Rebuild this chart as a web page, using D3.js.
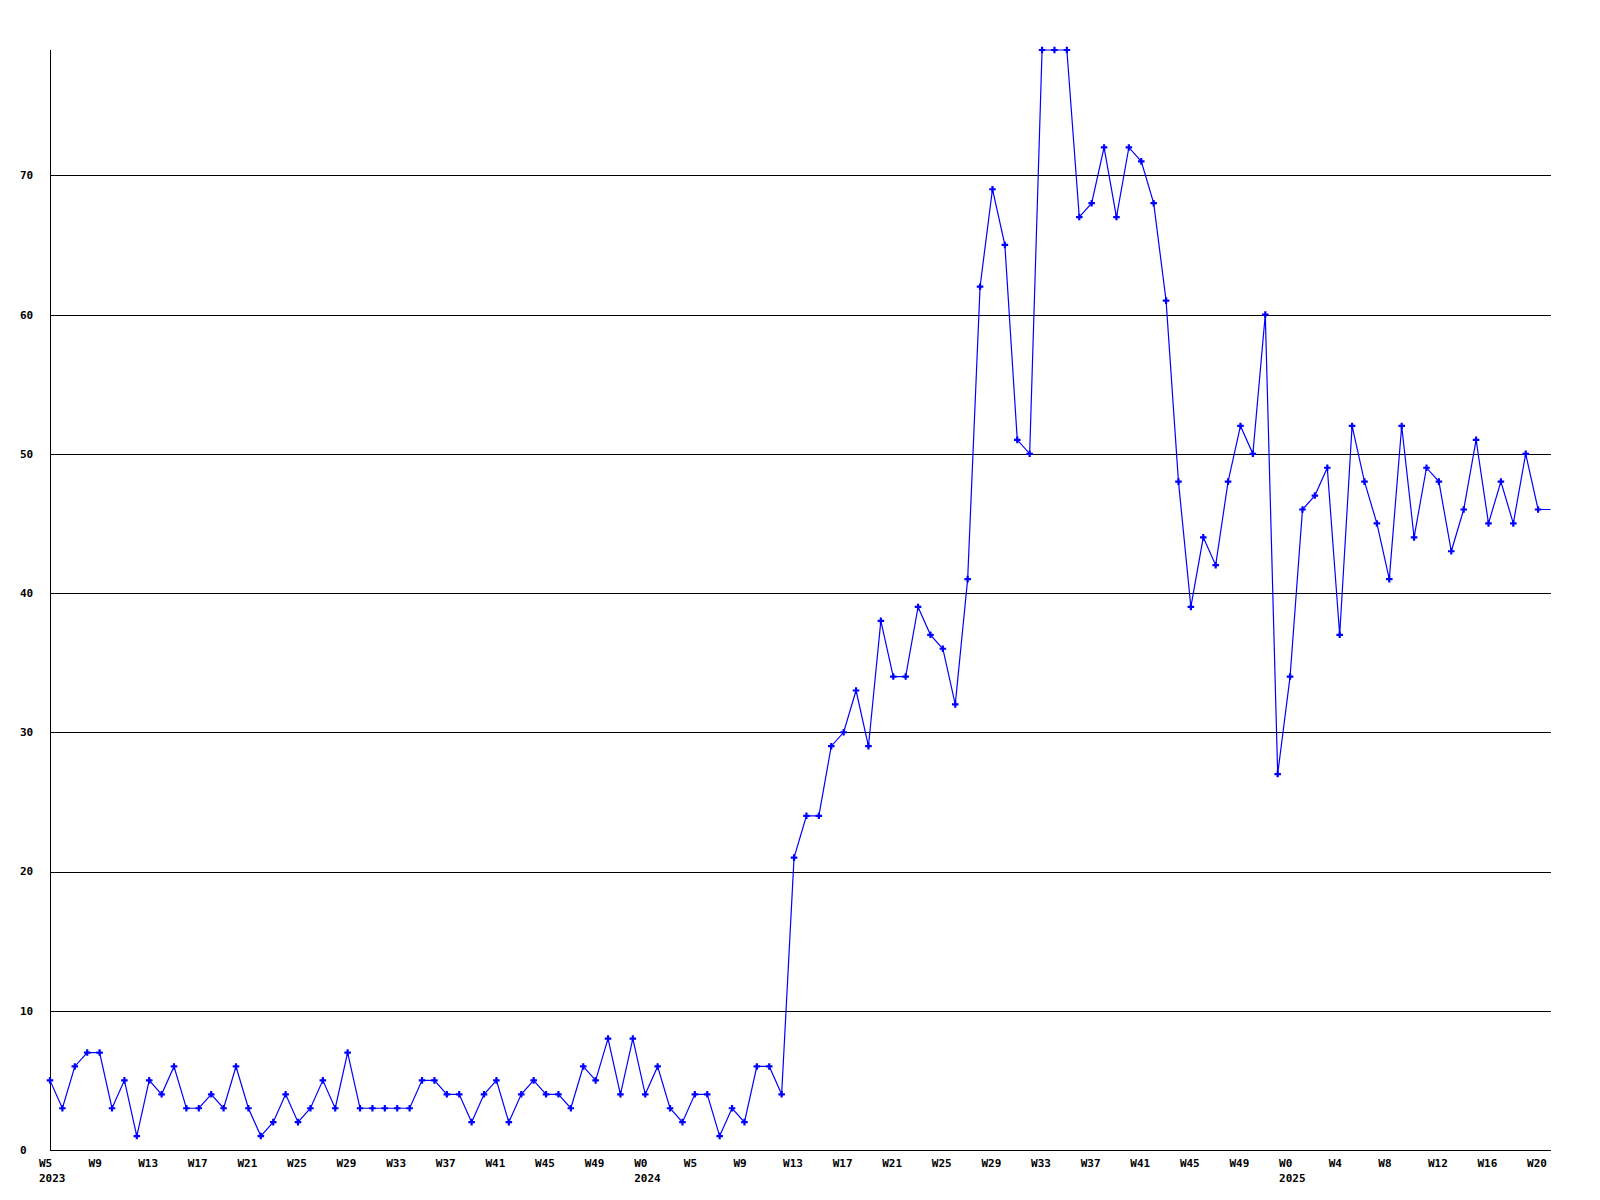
<!DOCTYPE html>
<html>
<head>
<meta charset="utf-8">
<script src="https://cdn.jsdelivr.net/npm/d3@7/dist/d3.min.js"></script>
<style>
  html, body { margin: 0; padding: 0; background: #ffffff; }
  svg { display: block; }
  text { font-family: "DejaVu Sans Mono", "Liberation Mono", monospace; font-weight: bold; font-size: 11px; fill: #000; }
</style>
</head>
<body>
<svg id="chart" width="1600" height="1200"></svg>
<script>
// Weekly values, 2023 W5 onward (one value per week)
const values = [
  5, 3, 6, 7, 7, 3, 5, 1, 5, 4, 6, 3, 3, 4, 3, 6, 3, 1, 2, 4,
  2, 3, 5, 3, 7, 3, 3, 3, 3, 3, 5, 5, 4, 4, 2, 4, 5, 2, 4, 5,
  4, 4, 3, 6, 5, 8, 4, 8, 4, 6, 3, 2, 4, 4, 1, 3, 2, 6, 6, 4,
  21, 24, 24, 29, 30, 33, 29, 38, 34, 34, 39, 37, 36, 32, 41, 62, 69, 65, 51, 50,
  79, 79, 79, 67, 68, 72, 67, 72, 71, 68, 61, 48, 39, 44, 42, 48, 52, 50, 60, 27,
  34, 46, 47, 49, 37, 52, 48, 45, 41, 52, 44, 49, 48, 43, 46, 51, 45, 48, 45, 50,
  46, 46
];
// X tick labels (every 4th week) and year labels
const tickLabels = [
  "W5", "W9", "W13", "W17", "W21", "W25", "W29", "W33", "W37", "W41", "W45", "W49",
  "W0", "W5", "W9", "W13", "W17", "W21", "W25", "W29", "W33", "W37", "W41", "W45", "W49",
  "W0", "W4", "W8", "W12", "W16", "W20"
];
const yearLabels = ["2023", "2024", "2025"];
const yearTickIndex = [0, 12, 25];
const yTicks = [0, 10, 20, 30, 40, 50, 60, 70];
const yMax = 79;

const svg = d3.select("#chart");
const mLeft = 50, mRight = 1550.5, mTop = 50, mBottom = 1150;

const x = d3.scaleLinear().domain([0, values.length - 1]).range([mLeft, mRight]);
const y = d3.scaleLinear().domain([0, yMax]).range([mBottom, mTop]);

svg.append("rect").attr("width", 1600).attr("height", 1200).attr("fill", "#fff");

// Gridlines
svg.append("g").selectAll("line").data(yTicks.filter(d => d > 0)).join("line")
  .attr("x1", mLeft).attr("x2", mRight + 0.5)
  .attr("y1", d => Math.round(y(d)) + 0.5).attr("y2", d => Math.round(y(d)) + 0.5)
  .attr("stroke", "#000").attr("stroke-width", 1).attr("shape-rendering", "crispEdges");

// Axes lines
svg.append("line").attr("x1", mLeft + 0.5).attr("x2", mLeft + 0.5).attr("y1", mTop).attr("y2", mBottom + 0.5)
  .attr("stroke", "#000").attr("shape-rendering", "crispEdges");
svg.append("line").attr("x1", mLeft).attr("x2", mRight + 0.5).attr("y1", mBottom + 0.5).attr("y2", mBottom + 0.5)
  .attr("stroke", "#000").attr("shape-rendering", "crispEdges");

// Y labels
svg.append("g").selectAll("text").data(yTicks).join("text")
  .attr("x", 20).attr("y", d => y(d)).attr("dy", "0.36em")
  .text(d => d);

// X labels
svg.append("g").selectAll("text").data(tickLabels).join("text")
  .attr("x", (d, i) => x(i * 4) - 11).attr("y", 1167)
  .text(d => d);
svg.append("g").selectAll("text").data(yearLabels).join("text")
  .attr("x", (d, i) => x(yearTickIndex[i] * 4) - 11).attr("y", 1182)
  .text(d => d);

// Line
const line = d3.line().x((d, i) => x(i)).y(d => y(d));
svg.append("path").datum(values).attr("d", line)
  .attr("fill", "none").attr("stroke", "#0000ff").attr("stroke-width", 1.2);

// Markers (the final value is the edge continuation, drawn without marker)
svg.append("g").selectAll("path").data(values.slice(0, values.length - 1)).join("path")
  .attr("transform", (d, i) => `translate(${x(i)},${y(d)})`)
  .attr("d", d3.symbol().type(d3.symbolCross).size(24))
  .attr("fill", "#0000ff");
</script>
</body>
</html>
